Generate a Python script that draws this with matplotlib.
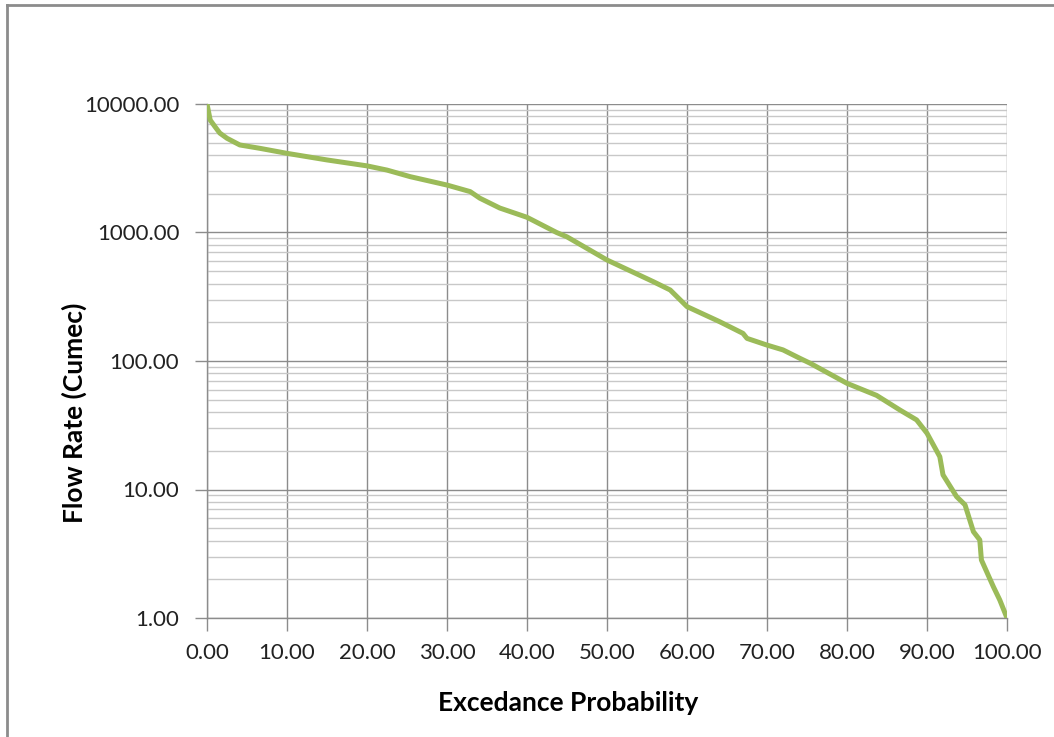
import matplotlib
matplotlib.use("Agg")
import matplotlib.pyplot as plt
from matplotlib.lines import Line2D
from matplotlib.ticker import FixedLocator, FuncFormatter, NullFormatter
import numpy as np

# flow duration curve
exceedance = [0.0, 0.4, 1.0, 1.6, 2.5, 4.1, 6.6, 10.0, 15.0, 20.0, 22.5, 25.4,
              30.0, 32.9, 34.1, 36.6, 40.0, 43.7, 45.0, 50.0, 55.8, 57.9,
              60.0, 64.1, 67.0, 67.5, 70.0, 72.0, 74.1, 75.4, 80.0, 83.7, 86.6,
              88.7, 90.0, 91.6, 92.0, 93.7, 94.75, 95.8, 96.6, 96.8, 98.3, 99.1,
              100.0]
flow = [10000, 7500, 6660, 5940, 5410, 4800, 4520, 4130, 3670, 3300, 3060, 2720,
        2340, 2080, 1850, 1550, 1313, 1000, 925, 611, 414, 357,
        265, 202, 164, 150, 133, 122, 105, 96, 67, 54, 41.6,
        34.8, 27.4, 18.0, 13.0, 8.8, 7.6, 4.7, 4.05, 2.83, 1.75, 1.38,
        1.0]

x_ticks = np.arange(0, 101, 10)
y_ticks = [1, 10, 100, 1000, 10000]

plt.rcParams["font.family"] = ["Lato", "DejaVu Sans"]

fig = plt.figure(figsize=(10.54, 7.37), dpi=100)
ax = fig.add_axes([207/1054, 1-618/737, 800/1054, 514/737])

ax.plot(exceedance, flow, color="#9BBB59", linewidth=3.6, solid_capstyle="round",
        solid_joinstyle="round", zorder=3)

ax.set_yscale("log")
ax.set_xlim(0, 100)
ax.set_ylim(1, 10000)

ax.xaxis.set_major_locator(FixedLocator(x_ticks))
ax.yaxis.set_major_locator(FixedLocator(y_ticks))
minors = [m * 10**d for d in range(0, 4) for m in range(2, 10)]
ax.yaxis.set_minor_locator(FixedLocator(minors))
ax.yaxis.set_minor_formatter(NullFormatter())
fmt = FuncFormatter(lambda v, pos: "%.2f" % v)
ax.xaxis.set_major_formatter(fmt)
ax.yaxis.set_major_formatter(fmt)

ax.grid(which="major", axis="both", color="#8C8C8C", linewidth=1.0)
ax.grid(which="minor", axis="y", color="#C8C8C8", linewidth=1.0)
ax.set_axisbelow(True)

for side in ["top", "right"]:
    ax.spines[side].set_visible(False)
for side in ["left", "bottom"]:
    ax.spines[side].set_color("#8C8C8C")
    ax.spines[side].set_linewidth(1.0)

ax.tick_params(which="major", direction="out", length=9, width=1.0, color="#8C8C8C",
               labelsize=16, labelcolor="#222222")
ax.tick_params(axis="y", which="major", pad=11)
ax.tick_params(axis="x", which="major", pad=9)
ax.tick_params(which="minor", length=0)

ax.set_xlabel("Excedance Probability", fontsize=19, fontweight="bold")
ax.set_ylabel("Flow Rate (Cumec)", fontsize=19, fontweight="bold")
# axis titles sit a little left/low of the plot centre
ax.xaxis.set_label_coords((568 - 207) / 800, (618 - 703) / 514)
ax.yaxis.set_label_coords((74 - 207) / 800, (618 - 413) / 514)
ax.xaxis.label.set_va("center")
ax.yaxis.label.set_va("center")

# chart frame, cut off on the right and bottom
fig.add_artist(Line2D([7/1054, 1.0], [1-5/737, 1-5/737], transform=fig.transFigure,
                      color="#8C8C8C", linewidth=2))
fig.add_artist(Line2D([7/1054, 7/1054], [0.0, 1-5/737], transform=fig.transFigure,
                      color="#8C8C8C", linewidth=2))

fig.savefig("out.png", dpi=100)
